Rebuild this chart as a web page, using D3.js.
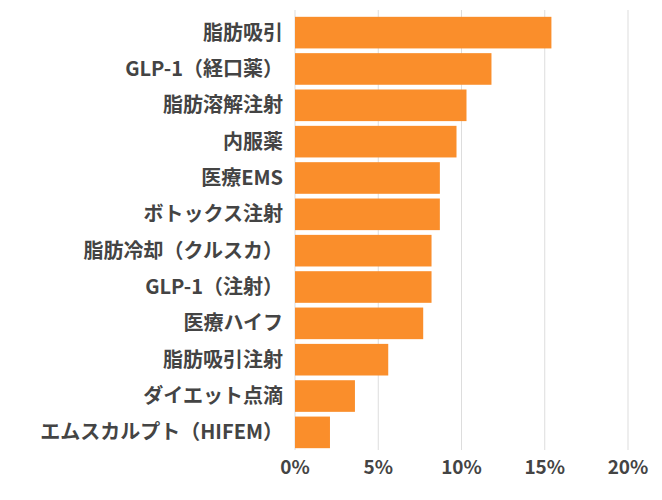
<!DOCTYPE html>
<html><head><meta charset="utf-8">
<script src="https://cdn.jsdelivr.net/npm/d3@7"></script>
<style>body{margin:0;background:#fff}</style></head>
<body><svg id="c" width="662" height="500"></svg>
<script>
const categories=["脂肪吸引","GLP-1（経口薬）","脂肪溶解注射","内服薬","医療EMS","ボトックス注射","脂肪冷却（クルスカ）","GLP-1（注射）","医療ハイフ","脂肪吸引注射","ダイエット点滴","エムスカルプト（HIFEM）"];
const values=[15.4,11.8,10.3,9.7,8.7,8.7,8.2,8.2,7.7,5.6,3.6,2.1];
const ticks=[0,5,10,15,20];
const svg=d3.select("#c");
const x=d3.scaleLinear().domain([0,20]).range([295,628]);
const y=d3.scaleBand().domain(categories).range([15,450]).paddingInner(0.13).paddingOuter(0.05);
const font="'Noto Sans CJK JP','Noto Sans',sans-serif";
svg.append("g").selectAll("line").data(ticks).join("line")
 .attr("x1",d=>x(d)).attr("x2",d=>x(d)).attr("y1",10).attr("y2",450)
 .attr("stroke","#ddd").attr("stroke-width",1);
svg.append("g").selectAll("rect").data(values).join("rect")
 .attr("x",x(0)).attr("y",(d,i)=>y(categories[i])).attr("width",d=>x(d)-x(0))
 .attr("height",y.bandwidth()).attr("fill","#FA8E2B");
svg.append("g").selectAll("text").data(categories).join("text")
 .attr("x",283).attr("y",d=>y(d)+y.bandwidth()/2).attr("dy","0.35em")
 .attr("text-anchor","end").attr("font-family",font).attr("font-weight","bold")
 .attr("font-size",20).attr("fill","#444").text(d=>d);
svg.append("g").selectAll("text").data(ticks).join("text")
 .attr("x",d=>x(d)).attr("y",474).attr("text-anchor","middle")
 .attr("font-family",font).attr("font-weight","bold").attr("font-size",19)
 .attr("fill","#444").text(d=>d+"%");
</script></body></html>
